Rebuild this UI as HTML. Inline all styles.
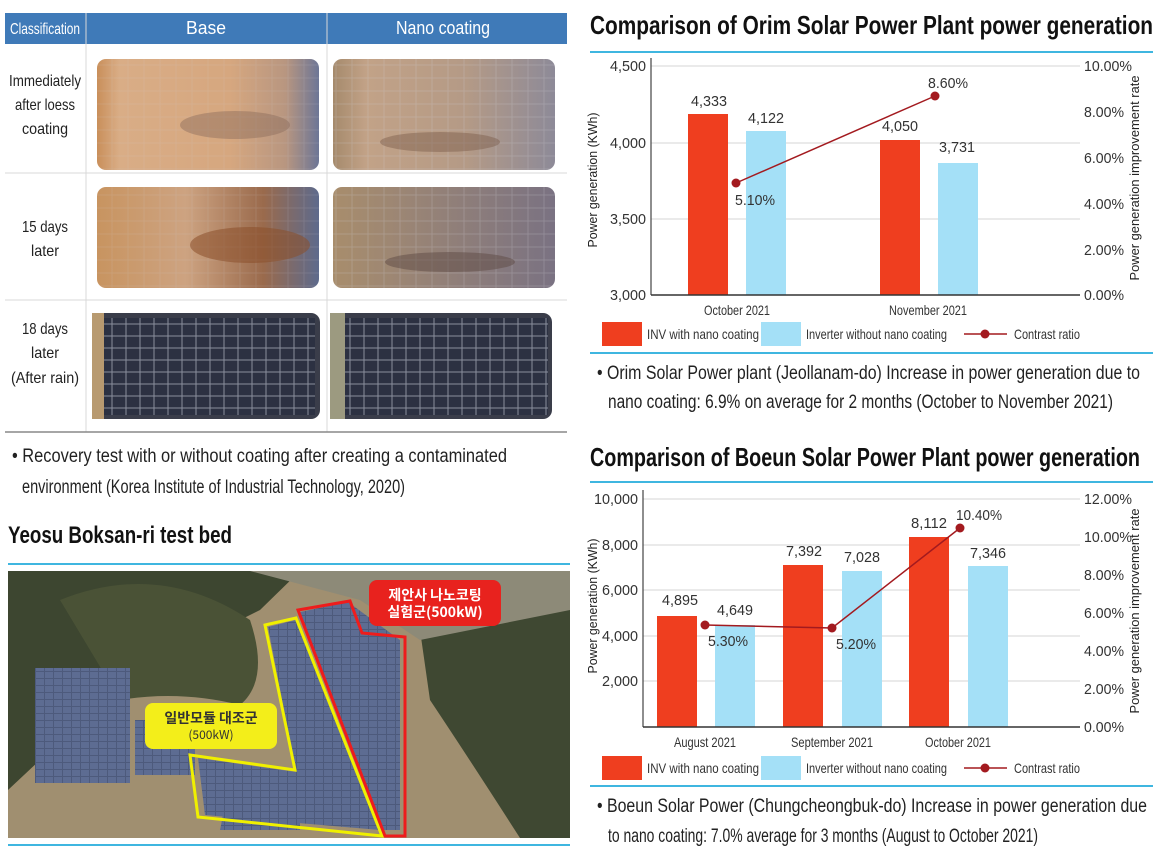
<!DOCTYPE html>
<html><head><meta charset="utf-8"><style>
html,body{margin:0;padding:0;background:#fff;}
svg{display:block;font-family:"Liberation Sans",sans-serif;}
</style></head><body>
<svg width="1160" height="857" viewBox="0 0 1160 857" xmlns="http://www.w3.org/2000/svg">
<defs>
<linearGradient id="dust1" x1="0" x2="1" y1="0" y2="0">
<stop offset="0" stop-color="#c98f5a"/><stop offset="0.1" stop-color="#d9ad86"/><stop offset="0.6" stop-color="#d6a77f"/><stop offset="0.85" stop-color="#b89680"/><stop offset="1" stop-color="#6d7696"/></linearGradient>
<linearGradient id="dust2" x1="0" x2="1" y1="0" y2="0">
<stop offset="0" stop-color="#a58a6c"/><stop offset="0.15" stop-color="#c2a287"/><stop offset="0.6" stop-color="#b49a86"/><stop offset="1" stop-color="#8d8a98"/></linearGradient>
<linearGradient id="dust3" x1="0" x2="1" y1="0" y2="0">
<stop offset="0" stop-color="#c89460"/><stop offset="0.4" stop-color="#cda381"/><stop offset="0.75" stop-color="#9a6a4c"/><stop offset="1" stop-color="#5d6a8c"/></linearGradient>
<linearGradient id="dust4" x1="0" x2="1" y1="0" y2="0">
<stop offset="0" stop-color="#a88d6c"/><stop offset="0.3" stop-color="#9c8674"/><stop offset="1" stop-color="#7a7282"/></linearGradient>
<pattern id="grid" width="16" height="13" patternUnits="userSpaceOnUse"><rect width="16" height="13" fill="none" stroke="#cfcfd6" stroke-width="0.8" opacity="0.6"/></pattern>
<pattern id="grid2" width="14" height="12" patternUnits="userSpaceOnUse"><rect width="14" height="12" fill="#2c3142" stroke="#8a8e9c" stroke-width="1"/></pattern>
<pattern id="panels" width="9" height="7" patternUnits="userSpaceOnUse"><rect width="9" height="7" fill="#4d5a7c"/><rect width="8" height="6" fill="#5d6c92"/></pattern>
</defs>

<!-- LEFT TABLE -->
<rect x="5" y="13" width="562" height="31" fill="#3f7ab8"/>
<line x1="86" y1="13" x2="86" y2="432" stroke="#d8d8d8" stroke-width="1"/>
<line x1="327" y1="13" x2="327" y2="432" stroke="#d8d8d8" stroke-width="1"/>
<line x1="5" y1="173" x2="567" y2="173" stroke="#d8d8d8"/>
<line x1="5" y1="300" x2="567" y2="300" stroke="#d8d8d8"/>
<line x1="5" y1="432" x2="567" y2="432" stroke="#888" stroke-width="1.5"/>
<g fill="#fff" font-size="18" text-anchor="middle">
<text x="45" y="34" font-size="16" textLength="70" lengthAdjust="spacingAndGlyphs">Classification</text>
<text x="206" y="34" textLength="40" lengthAdjust="spacingAndGlyphs">Base</text>
<text x="443" y="34" textLength="94" lengthAdjust="spacingAndGlyphs">Nano coating</text>
</g>
<g fill="#222" font-size="16" text-anchor="middle">
<text x="45" y="86" textLength="72" lengthAdjust="spacingAndGlyphs">Immediately</text><text x="45" y="110" textLength="60" lengthAdjust="spacingAndGlyphs">after loess</text><text x="45" y="134" textLength="46" lengthAdjust="spacingAndGlyphs">coating</text>
<text x="45" y="232" textLength="46" lengthAdjust="spacingAndGlyphs">15 days</text><text x="45" y="256" textLength="28" lengthAdjust="spacingAndGlyphs">later</text>
<text x="45" y="334" textLength="46" lengthAdjust="spacingAndGlyphs">18 days</text><text x="45" y="358" textLength="28" lengthAdjust="spacingAndGlyphs">later</text><text x="45" y="383" textLength="68" lengthAdjust="spacingAndGlyphs">(After rain)</text>
</g>
<!-- photos -->
<rect x="97" y="59" width="222" height="111" rx="9" fill="url(#dust1)"/>
<rect x="97" y="59" width="222" height="111" rx="9" fill="url(#grid)" opacity="0.3"/>
<ellipse cx="235" cy="125" rx="55" ry="14" fill="#8a6a5a" opacity="0.45"/>
<rect x="333" y="59" width="222" height="111" rx="9" fill="url(#dust2)"/>
<rect x="333" y="59" width="222" height="111" rx="9" fill="url(#grid)" opacity="0.5"/>
<ellipse cx="440" cy="142" rx="60" ry="10" fill="#7a5a4a" opacity="0.45"/>
<rect x="97" y="187" width="222" height="101" rx="9" fill="url(#dust3)"/>
<rect x="97" y="187" width="222" height="101" rx="9" fill="url(#grid)" opacity="0.3"/>
<ellipse cx="250" cy="245" rx="60" ry="18" fill="#8a4f2a" opacity="0.55"/>
<rect x="333" y="187" width="222" height="101" rx="9" fill="url(#dust4)"/>
<rect x="333" y="187" width="222" height="101" rx="9" fill="url(#grid)" opacity="0.5"/>
<ellipse cx="450" cy="262" rx="65" ry="10" fill="#5d4a44" opacity="0.5"/>
<rect x="92" y="313" width="228" height="106" rx="9" fill="#3a3d4a"/>
<rect x="103" y="318" width="212" height="97" fill="url(#grid2)"/>
<rect x="92" y="313" width="12" height="106" fill="#b89a70"/>
<rect x="330" y="313" width="222" height="106" rx="9" fill="#3a3d4a"/>
<rect x="345" y="318" width="203" height="97" fill="url(#grid2)"/>
<rect x="330" y="313" width="15" height="106" fill="#9c9a80"/>

<g fill="#222" font-size="19">
<text x="12" y="462" textLength="495" lengthAdjust="spacingAndGlyphs">• Recovery test with or without coating after creating a contaminated</text>
<text x="22" y="493" textLength="383" lengthAdjust="spacingAndGlyphs">environment (Korea Institute of Industrial Technology, 2020)</text>
<text x="8" y="543" font-size="24" font-weight="bold" fill="#111" textLength="224" lengthAdjust="spacingAndGlyphs">Yeosu Boksan-ri test bed</text>
</g>
<line x1="8" y1="564" x2="570" y2="564" stroke="#3fb6e0" stroke-width="2"/>
<line x1="8" y1="845" x2="570" y2="845" stroke="#3fb6e0" stroke-width="2"/>
<!-- aerial photo -->
<svg x="8" y="571" width="562" height="267" viewBox="8 571 562 267">
<rect x="8" y="571" width="562" height="267" fill="#a08f70"/>
<path d="M8 571 L300 571 L260 610 L200 640 L150 660 L90 700 L40 760 L8 790 Z" fill="#3d4630"/>
<path d="M60 600 Q160 560 250 620 Q270 680 240 705 Q180 690 120 700 Z" fill="#4a5236"/>
<path d="M420 630 L570 600 L570 838 L520 838 Q470 760 430 700 Z" fill="#3f4832"/>
<path d="M250 571 L570 571 L570 610 L420 640 L360 600 Z" fill="#8d8a78"/>
<rect x="35" y="668" width="95" height="115" fill="url(#panels)"/>
<rect x="135" y="720" width="60" height="55" fill="url(#panels)"/>
<path d="M268 627 L296 620 L380 830 L205 815 L198 758 L296 772 Z" fill="url(#panels)"/>
<path d="M300 612 L348 602 L400 640 L400 830 L384 830 Z" fill="url(#panels)"/>
<path d="M230 780 L300 780 L300 830 L220 830 Z" fill="url(#panels)"/>
<polygon points="265,625 296,618 382,836 198,817 190,755 295,770" fill="none" stroke="#f0f000" stroke-width="3"/>
<polygon points="298,610 350,601 362,633 405,637 405,836 385,836" fill="none" stroke="#ee1c1c" stroke-width="3"/>
</svg>
<rect x="369" y="580" width="132" height="46" rx="8" fill="#e8221e"/>
<text x="435" y="600" font-family="'Noto Sans CJK KR',sans-serif" font-size="14" font-weight="bold" fill="#fff" text-anchor="middle">제안사 나노코팅</text>
<text x="435" y="617" font-family="'Noto Sans CJK KR',sans-serif" font-size="14" font-weight="bold" fill="#fff" text-anchor="middle">실험군(500kW)</text>
<rect x="145" y="703" width="132" height="46" rx="8" fill="#f3ee1a"/>
<text x="211" y="723" font-family="'Noto Sans CJK KR',sans-serif" font-size="14" font-weight="bold" fill="#333" text-anchor="middle">일반모듈 대조군</text>
<text x="211" y="739" font-family="'Noto Sans CJK KR',sans-serif" font-size="12" fill="#333" text-anchor="middle">(500kW)</text>

<!-- CHART 1 -->
<text x="590" y="34" font-size="26" font-weight="bold" fill="#111" textLength="563" lengthAdjust="spacingAndGlyphs">Comparison of Orim Solar Power Plant power generation</text>
<line x1="590" y1="52" x2="1153" y2="52" stroke="#3fb6e0" stroke-width="2"/>
<g stroke="#ddd" stroke-width="1.2">
<line x1="651" y1="66" x2="1080" y2="66"/><line x1="651" y1="143" x2="1080" y2="143"/><line x1="651" y1="219" x2="1080" y2="219"/>
</g>
<rect x="688" y="114" width="40" height="181" fill="#ef3e1f"/>
<rect x="746" y="131" width="40" height="164" fill="#a4e0f7"/>
<rect x="880" y="140" width="40" height="155" fill="#ef3e1f"/>
<rect x="938" y="163" width="40" height="132" fill="#a4e0f7"/>
<line x1="651" y1="58" x2="651" y2="295" stroke="#444" stroke-width="1.2"/>
<line x1="651" y1="295" x2="1080" y2="295" stroke="#333" stroke-width="1.5"/>
<polyline points="736,183 935,96" fill="none" stroke="#a31a1f" stroke-width="1.5"/>
<circle cx="736" cy="183" r="4.5" fill="#a31a1f"/><circle cx="935" cy="96" r="4.5" fill="#a31a1f"/>
<g font-size="15" fill="#333" text-anchor="end">
<text x="646" y="71" textLength="36" lengthAdjust="spacingAndGlyphs">4,500</text><text x="646" y="148" textLength="36" lengthAdjust="spacingAndGlyphs">4,000</text><text x="646" y="224" textLength="36" lengthAdjust="spacingAndGlyphs">3,500</text><text x="646" y="300" textLength="36" lengthAdjust="spacingAndGlyphs">3,000</text>
</g>
<g font-size="15" fill="#333">
<text x="1084" y="71" textLength="48" lengthAdjust="spacingAndGlyphs">10.00%</text><text x="1084" y="117" textLength="40" lengthAdjust="spacingAndGlyphs">8.00%</text><text x="1084" y="163" textLength="40" lengthAdjust="spacingAndGlyphs">6.00%</text><text x="1084" y="209" textLength="40" lengthAdjust="spacingAndGlyphs">4.00%</text><text x="1084" y="255" textLength="40" lengthAdjust="spacingAndGlyphs">2.00%</text><text x="1084" y="300" textLength="40" lengthAdjust="spacingAndGlyphs">0.00%</text>
</g>
<g font-size="15" fill="#333" text-anchor="middle">
<text x="709" y="106" textLength="36" lengthAdjust="spacingAndGlyphs">4,333</text><text x="766" y="123" textLength="36" lengthAdjust="spacingAndGlyphs">4,122</text><text x="900" y="131" textLength="36" lengthAdjust="spacingAndGlyphs">4,050</text><text x="957" y="152" textLength="36" lengthAdjust="spacingAndGlyphs">3,731</text>
<text x="755" y="205" textLength="40" lengthAdjust="spacingAndGlyphs">5.10%</text><text x="948" y="88" textLength="40" lengthAdjust="spacingAndGlyphs">8.60%</text>
</g>
<g font-size="14" fill="#333" text-anchor="middle">
<text x="737" y="315" textLength="66" lengthAdjust="spacingAndGlyphs">October 2021</text><text x="928" y="315" textLength="78" lengthAdjust="spacingAndGlyphs">November 2021</text>
</g>
<text transform="translate(597,180) rotate(-90)" font-size="13" fill="#222" text-anchor="middle" textLength="135" lengthAdjust="spacingAndGlyphs">Power generation (KWh)</text>
<text transform="translate(1139,178) rotate(-90)" font-size="13" fill="#222" text-anchor="middle" textLength="205" lengthAdjust="spacingAndGlyphs">Power generation improvement rate</text>
<rect x="602" y="322" width="40" height="24" fill="#ef3e1f"/>
<rect x="761" y="322" width="40" height="24" fill="#a4e0f7"/>
<line x1="964" y1="334" x2="1007" y2="334" stroke="#a31a1f" stroke-width="1.5"/><circle cx="985" cy="334" r="4.5" fill="#a31a1f"/>
<g font-size="14" fill="#333"><text x="647" y="339" textLength="112" lengthAdjust="spacingAndGlyphs">INV with nano coating</text><text x="806" y="339" textLength="141" lengthAdjust="spacingAndGlyphs">Inverter without nano coating</text><text x="1014" y="339" textLength="66" lengthAdjust="spacingAndGlyphs">Contrast ratio</text></g>
<line x1="590" y1="353" x2="1153" y2="353" stroke="#3fb6e0" stroke-width="2"/>
<g font-size="19" fill="#222">
<text x="597" y="379" textLength="543" lengthAdjust="spacingAndGlyphs">• Orim Solar Power plant (Jeollanam-do) Increase in power generation due to</text>
<text x="608" y="408" textLength="505" lengthAdjust="spacingAndGlyphs">nano coating: 6.9% on average for 2 months (October to November 2021)</text>
</g>

<!-- CHART 2 -->
<text x="590" y="466" font-size="26" font-weight="bold" fill="#111" textLength="550" lengthAdjust="spacingAndGlyphs">Comparison of Boeun Solar Power Plant power generation</text>
<line x1="590" y1="482" x2="1153" y2="482" stroke="#3fb6e0" stroke-width="2"/>
<g stroke="#ddd" stroke-width="1.2">
<line x1="643" y1="499" x2="1080" y2="499"/><line x1="643" y1="545" x2="1080" y2="545"/><line x1="643" y1="590" x2="1080" y2="590"/><line x1="643" y1="636" x2="1080" y2="636"/><line x1="643" y1="681" x2="1080" y2="681"/>
</g>
<rect x="657" y="616" width="40" height="111" fill="#ef3e1f"/>
<rect x="715" y="625" width="40" height="102" fill="#a4e0f7"/>
<rect x="783" y="565" width="40" height="162" fill="#ef3e1f"/>
<rect x="842" y="571" width="40" height="156" fill="#a4e0f7"/>
<rect x="909" y="537" width="40" height="190" fill="#ef3e1f"/>
<rect x="968" y="566" width="40" height="161" fill="#a4e0f7"/>
<line x1="643" y1="490" x2="643" y2="727" stroke="#444" stroke-width="1.2"/>
<line x1="643" y1="727" x2="1080" y2="727" stroke="#333" stroke-width="1.5"/>
<polyline points="705,625 832,628 960,528" fill="none" stroke="#a31a1f" stroke-width="1.5"/>
<circle cx="705" cy="625" r="4.5" fill="#a31a1f"/><circle cx="832" cy="628" r="4.5" fill="#a31a1f"/><circle cx="960" cy="528" r="4.5" fill="#a31a1f"/>
<g font-size="15" fill="#333" text-anchor="end">
<text x="638" y="504" textLength="44" lengthAdjust="spacingAndGlyphs">10,000</text><text x="638" y="550" textLength="36" lengthAdjust="spacingAndGlyphs">8,000</text><text x="638" y="595" textLength="36" lengthAdjust="spacingAndGlyphs">6,000</text><text x="638" y="641" textLength="36" lengthAdjust="spacingAndGlyphs">4,000</text><text x="638" y="686" textLength="36" lengthAdjust="spacingAndGlyphs">2,000</text>
</g>
<g font-size="15" fill="#333">
<text x="1084" y="504" textLength="48" lengthAdjust="spacingAndGlyphs">12.00%</text><text x="1084" y="542" textLength="48" lengthAdjust="spacingAndGlyphs">10.00%</text><text x="1084" y="580" textLength="40" lengthAdjust="spacingAndGlyphs">8.00%</text><text x="1084" y="618" textLength="40" lengthAdjust="spacingAndGlyphs">6.00%</text><text x="1084" y="656" textLength="40" lengthAdjust="spacingAndGlyphs">4.00%</text><text x="1084" y="694" textLength="40" lengthAdjust="spacingAndGlyphs">2.00%</text><text x="1084" y="732" textLength="40" lengthAdjust="spacingAndGlyphs">0.00%</text>
</g>
<g font-size="15" fill="#333" text-anchor="middle">
<text x="680" y="605" textLength="36" lengthAdjust="spacingAndGlyphs">4,895</text><text x="735" y="615" textLength="36" lengthAdjust="spacingAndGlyphs">4,649</text><text x="804" y="556" textLength="36" lengthAdjust="spacingAndGlyphs">7,392</text><text x="862" y="562" textLength="36" lengthAdjust="spacingAndGlyphs">7,028</text><text x="929" y="528" textLength="36" lengthAdjust="spacingAndGlyphs">8,112</text><text x="988" y="558" textLength="36" lengthAdjust="spacingAndGlyphs">7,346</text>
<text x="728" y="646" textLength="40" lengthAdjust="spacingAndGlyphs">5.30%</text><text x="856" y="649" textLength="40" lengthAdjust="spacingAndGlyphs">5.20%</text><text x="979" y="520" textLength="46" lengthAdjust="spacingAndGlyphs">10.40%</text>
</g>
<g font-size="14" fill="#333" text-anchor="middle">
<text x="705" y="747" textLength="62" lengthAdjust="spacingAndGlyphs">August 2021</text><text x="832" y="747" textLength="82" lengthAdjust="spacingAndGlyphs">September 2021</text><text x="958" y="747" textLength="66" lengthAdjust="spacingAndGlyphs">October 2021</text>
</g>
<text transform="translate(597,606) rotate(-90)" font-size="13" fill="#222" text-anchor="middle" textLength="135" lengthAdjust="spacingAndGlyphs">Power generation (KWh)</text>
<text transform="translate(1139,611) rotate(-90)" font-size="13" fill="#222" text-anchor="middle" textLength="205" lengthAdjust="spacingAndGlyphs">Power generation improvement rate</text>
<rect x="602" y="756" width="40" height="24" fill="#ef3e1f"/>
<rect x="761" y="756" width="40" height="24" fill="#a4e0f7"/>
<line x1="964" y1="768" x2="1007" y2="768" stroke="#a31a1f" stroke-width="1.5"/><circle cx="985" cy="768" r="4.5" fill="#a31a1f"/>
<g font-size="14" fill="#333"><text x="647" y="773" textLength="112" lengthAdjust="spacingAndGlyphs">INV with nano coating</text><text x="806" y="773" textLength="141" lengthAdjust="spacingAndGlyphs">Inverter without nano coating</text><text x="1014" y="773" textLength="66" lengthAdjust="spacingAndGlyphs">Contrast ratio</text></g>
<line x1="590" y1="786" x2="1153" y2="786" stroke="#3fb6e0" stroke-width="2"/>
<g font-size="19" fill="#222">
<text x="597" y="812" textLength="550" lengthAdjust="spacingAndGlyphs">• Boeun Solar Power (Chungcheongbuk-do) Increase in power generation due</text>
<text x="608" y="842" textLength="430" lengthAdjust="spacingAndGlyphs">to nano coating: 7.0% average for 3 months (August to October 2021)</text>
</g>
</svg>
</body></html>
